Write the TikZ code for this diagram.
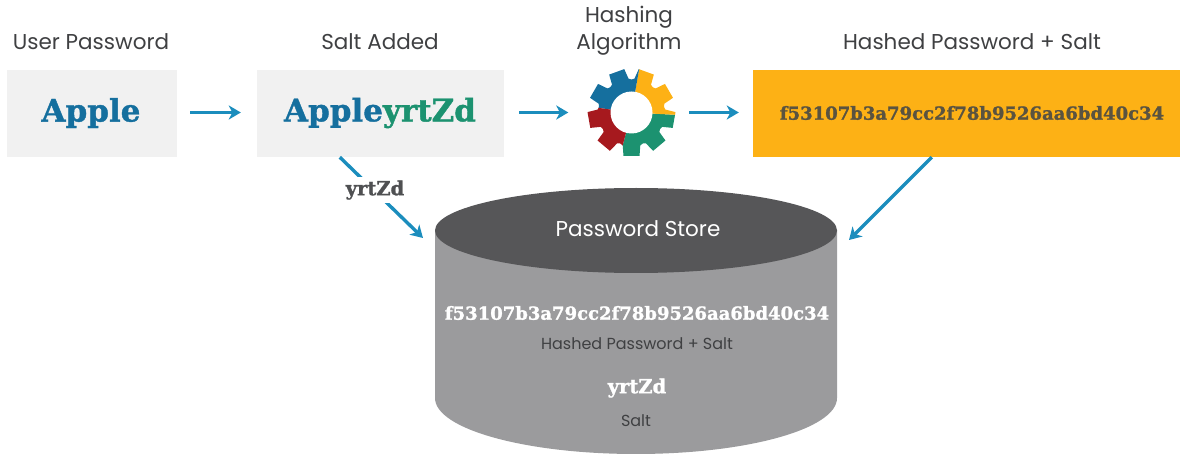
\documentclass[tikz,border=0pt]{standalone}
\usepackage{fontspec}
\setmainfont{Poppins}
\newfontfamily\slab{DejaVu Serif}[BoldFont={DejaVu Serif Bold},BoldFeatures={FakeBold=1.3}]
\usetikzlibrary{arrows.meta,calc}
\definecolor{ink}{HTML}{3F4042}
\definecolor{paleBox}{HTML}{F1F1F1}
\definecolor{goldBox}{HTML}{FDB115}
\definecolor{arrowBlue}{HTML}{1B8DBD}
\definecolor{appleBlue}{HTML}{156F9E}
\definecolor{saltGreen}{HTML}{1C9270}
\definecolor{gearRed}{HTML}{A6191E}
\definecolor{cylTop}{HTML}{565658}
\definecolor{cylBody}{HTML}{9B9B9D}
\definecolor{slabGrey}{HTML}{4F5052}
\definecolor{hashInk}{HTML}{5A5340}
\tikzset{
  x=1pt,y=-1pt,
  flow/.style={draw=arrowBlue,line width=3.4pt,-{Stealth[length=12pt,width=14pt,inset=3.5pt]}},
  headline/.style={inner sep=0pt,text=ink,font=\fontsize{21.5}{27}\selectfont,align=center},
  smalllabel/.style={inner sep=0pt,text=ink,font=\fontsize{16}{18}\selectfont},
  slabtext/.style={inner sep=0pt,font=\slab\bfseries},
  panel/.style={inner sep=0pt,minimum height=87pt}
}
\begin{document}
\begin{tikzpicture}
\useasboundingbox (0,0) rectangle (1180,454);
% boxes
\node[panel,fill=paleBox,minimum width=170pt] (user) at (92,113.5) {};
\node[panel,fill=paleBox,minimum width=247pt] (salt) at (380.5,113.5) {};
\node[panel,fill=goldBox,minimum width=427pt] (hash) at (966.5,113.5) {};
% cylinder
\fill[cylBody] (435,230) -- (435,398) arc[start angle=180,end angle=360,x radius=201,y radius=-56] -- (837,230) -- cycle;
\fill[cylTop] (636,230.5) ellipse[x radius=201,y radius=42.5];
\coordinate (storeL) at (423,238);
\coordinate (storeR) at (849,240);
% gear
\def\gearpath{}
\foreach \a [evaluate=\a as \s using \a-20] in {-90,-50,-10,30,70,110,150,190,230}{
  \xdef\gearpath{\gearpath (\s:33) -- (\a-15:34) -- (\a-10.5:44) -- (\a+10.5:44) -- (\a+15:34) -- }
}
\begin{scope}[shift={(631.5,112.5)},y=1pt]
  \begin{scope}
    \clip \gearpath cycle;
    \fill[saltGreen] (0,0) -- (-105:60) arc[start angle=-105,end angle=-3,radius=60] -- cycle;
    \fill[goldBox] (0,0) -- (-3:60) arc[start angle=-3,end angle=80,radius=60] -- cycle;
    \fill[appleBlue] (0,0) -- (80:60) arc[start angle=80,end angle=172,radius=60] -- cycle;
    \fill[gearRed] (0,0) -- (172:60) arc[start angle=172,end angle=255,radius=60] -- cycle;
  \end{scope}
  \fill[white] (0,0) circle[radius=21];
\end{scope}
\node[minimum size=74pt,inner sep=0pt] (gear) at (631.5,113.5) {};
% connectors
\draw[flow,shorten <=13pt,shorten >=16pt] ([yshift=1pt]user.east) -- ([yshift=1pt]salt.west);
\draw[flow,shorten <=15pt,shorten >=26pt] ([yshift=1pt]salt.east) -- ([yshift=1pt]gear.west);
\draw[flow,shorten <=20.5pt,shorten >=14pt] ([yshift=1pt]gear.east) -- ([yshift=1pt]hash.west);
\coordinate (saltOut) at ($(salt.south west)+(83,0)$);
\coordinate (hashOut) at ($(hash.south west)+(179,0)$);
\draw[flow] (saltOut) -- (storeL);
\draw[flow] (hashOut) -- (storeR);
\node[slabtext,text=slabGrey,fill=white,inner xsep=3pt,minimum height=26pt,font=\slab\bfseries\fontsize{19.5}{21}\selectfont] (saltTag) at (375,190) {yrtZd};
% texts
\node[headline] (t1) at (91,42) {User Password};
\node[headline] (t2) at (380,42) {Salt Added};
\node[headline] (t3) at (629,31) {Hashing\\Algorithm};
\node[headline] (t4) at (972,42) {Hashed Password + Salt};
\node[slabtext,text=appleBlue,font=\slab\bfseries\fontsize{31}{33}\selectfont] (w1) at (91,113) {Apple};
\node[slabtext,font=\slab\bfseries\fontsize{31}{33}\selectfont] (w2) at (380,113) {\textcolor{appleBlue}{Apple}\textcolor{saltGreen}{yrtZd}};
\node[slabtext,text=hashInk,font=\slab\bfseries\fontsize{18}{20}\selectfont] (w3) at (972,113) {f53107b3a79cc2f78b9526aa6bd40c34};
\node[headline,text=white] (s0) at (638,229) {Password Store};
\node[slabtext,text=white,font=\slab\bfseries\fontsize{18}{20}\selectfont] (s1) at (637,313) {f53107b3a79cc2f78b9526aa6bd40c34};
\node[smalllabel] (s2) at (637,344) {Hashed Password + Salt};
\node[slabtext,text=white,font=\slab\bfseries\fontsize{19.5}{21}\selectfont] (s3) at (637,388) {yrtZd};
\node[smalllabel] (s4) at (636,421) {Salt};
\end{tikzpicture}
\end{document}
